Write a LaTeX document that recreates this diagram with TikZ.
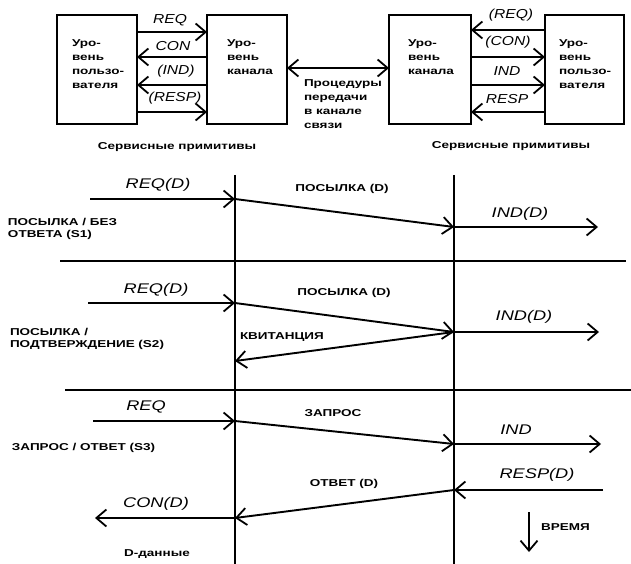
\documentclass[tikz,border=0pt]{standalone}
\usepackage{fontspec}
\setmainfont{Liberation Sans}
\newfontfamily\labfont[FakeStretch=1.35]{Liberation Sans}
\newfontfamily\primfont[FakeStretch=1.2]{Liberation Sans}
\newfontfamily\primfontb[FakeStretch=1.3]{Liberation Sans}
\usetikzlibrary{arrows.meta,calc}
\begin{document}
\begin{tikzpicture}[x=1pt,y=-1pt,
  every node/.style={inner sep=0pt,outer sep=0pt},
  box/.style={draw,line width=2pt,anchor=north west,minimum height=109pt},
  ln/.style={line width=1.9pt},
  tip/.tip={Straight Barb[length=10pt,width=17pt,line width=1.8pt]},
  arr/.style={ln,-tip},
  darr/.style={ln,tip-tip},
  lab/.style={font=\labfont\bfseries\fontsize{10}{14}\selectfont},
  labn/.style={font=\labfont\bfseries\fontsize{10}{12}\selectfont},
  prim/.style={font=\primfont\itshape\fontsize{13}{15}\selectfont},
  primb/.style={font=\primfontb\itshape\fontsize{14}{16}\selectfont},
]
\useasboundingbox[fill=white] (0,0) rectangle (631,564);

% ---------- top: service primitives ----------
\node[box,minimum width=80pt] (lu) at (57,15) {};
\node[box,minimum width=80pt] (lc) at (207,15) {};
\node[box,minimum width=82pt] (rc) at (389,15) {};
\node[box,minimum width=79pt] (ru) at (545,15) {};

\node[lab,align=left,anchor=north west] (lut) at (72,40) {Уро-\\вень\\пользо-\\вателя};
\node[lab,align=left,anchor=north west] (lct) at (227,40) {Уро-\\вень\\канала};
\node[lab,align=left,anchor=north west] (rct) at (408,40) {Уро-\\вень\\канала};
\node[lab,align=left,anchor=north west] (rut) at (559,40) {Уро-\\вень\\пользо-\\вателя};

\draw[arr] ([yshift=-17pt]lu.north east) -- ([yshift=-17pt]lc.north west);
\draw[arr] ([yshift=-42pt]lc.north west) -- ([yshift=-42pt]lu.north east);
\draw[arr] ([yshift=-70pt]lc.north west) -- ([yshift=-70pt]lu.north east);
\draw[arr] ([yshift=-97pt]lu.north east) -- ([yshift=-97pt]lc.north west);

\draw[arr] ([yshift=-15pt]ru.north west) -- ([yshift=-15pt]rc.north east);
\draw[arr] ([yshift=-42pt]rc.north east) -- ([yshift=-42pt]ru.north west);
\draw[arr] ([yshift=-70pt]rc.north east) -- ([yshift=-70pt]ru.north west);
\draw[arr] ([yshift=-97pt]ru.north west) -- ([yshift=-97pt]rc.north east);

\draw[darr] ([yshift=-53pt]lc.north east) -- ([yshift=-53pt]rc.north west);

\node[prim] (lreq) at (170,20) {REQ};
\node[prim] (lcon) at (173,46) {CON};
\node[prim] (lind) at (176,71) {(IND)};
\node[prim] (lresp) at (175,98) {(RESP)};
\node[prim] (rreq) at (511,15) {(REQ)};
\node[prim] (rcon) at (508,42) {(CON)};
\node[prim] (rind) at (507,71) {IND};
\node[prim] (rresp) at (507,99) {RESP};

\node[lab,align=left,anchor=north west] (proc) at (304,80) {Процедуры\\передачи\\в канале\\связи};
\node[lab] (capl) at (177,147) {Сервисные примитивы};
\node[lab] (capr) at (511,146) {Сервисные примитивы};

% ---------- bottom: time sequences ----------
\coordinate (v1t) at (235,175); \coordinate (v1b) at (235,564);
\coordinate (v2t) at (454,175); \coordinate (v2b) at (454,564);
\draw[ln] (v1t) -- (v1b);
\draw[ln] (v2t) -- (v2b);
\coordinate (s1l) at (60,261); \coordinate (s1r) at (626,261);
\coordinate (s2l) at (65,390); \coordinate (s2r) at (631,390);
\draw[ln] (s1l) -- (s1r);
\draw[ln] (s2l) -- (s2r);

% S1
\coordinate (a1) at (90,199); \coordinate (b1) at (235,199);
\coordinate (c1) at (454,227); \coordinate (d1) at (598,227);
\draw[arr] (a1) -- (b1);
\draw[arr] (b1) -- (c1);
\draw[arr] (c1) -- (d1);
\node[primb] (reqd1) at (158,185) {REQ(D)};
\node[lab] (pos1) at (342,189) {ПОСЫЛКА (D)};
\node[primb] (indd1) at (520,214) {IND(D)};
\node[labn,align=left,anchor=north west] (s1) at (8,218) {ПОСЫЛКА / БЕЗ\\ОТВЕТА (S1)};

% S2
\coordinate (a2) at (88,303); \coordinate (b2) at (235,303);
\coordinate (c2) at (454,332); \coordinate (d2) at (599,332);
\coordinate (e2) at (235,361);
\draw[arr] (a2) -- (b2);
\draw[arr] (b2) -- (c2);
\draw[arr] (c2) -- (d2);
\draw[arr] (c2) -- (e2);
\node[primb] (reqd2) at (156,290) {REQ(D)};
\node[lab] (pos2) at (344,293) {ПОСЫЛКА (D)};
\node[primb] (indd2) at (524,317) {IND(D)};
\node[lab,anchor=west] (kv) at (240,337) {КВИТАНЦИЯ};
\node[labn,align=left,anchor=north west] (s2) at (10,328) {ПОСЫЛКА /\\ПОДТВЕРЖДЕНИЕ (S2)};

% S3
\coordinate (a3) at (93,421); \coordinate (b3) at (235,421);
\coordinate (c3) at (454,444); \coordinate (d3) at (601,444);
\coordinate (f3) at (603,490); \coordinate (g3) at (454,490);
\coordinate (h3) at (235,518); \coordinate (k3) at (95,518);
\draw[arr] (a3) -- (b3);
\draw[arr] (b3) -- (c3);
\draw[arr] (c3) -- (d3);
\draw[arr] (f3) -- (g3);
\draw[arr] (g3) -- (h3);
\draw[arr] (h3) -- (k3);
\node[primb] (req3) at (146,407) {REQ};
\node[lab] (zap) at (333,413) {ЗАПРОС};
\node[primb] (ind3) at (516,430) {IND};
\node[lab,anchor=base west] (s3) at (12,450) {ЗАПРОС / ОТВЕТ (S3)};
\node[primb] (respd) at (537,475) {RESP(D)};
\node[lab] (otv) at (344,484) {ОТВЕТ (D)};
\node[primb] (cond) at (156,504) {CON(D)};
\node[lab] (dd) at (157,554) {D-данные};

\coordinate (t1) at (529,512); \coordinate (t2) at (529,552);
\draw[arr] (t1) -- (t2);
\node[lab,anchor=west] (vr) at (541,527) {ВРЕМЯ};
\end{tikzpicture}
\end{document}
